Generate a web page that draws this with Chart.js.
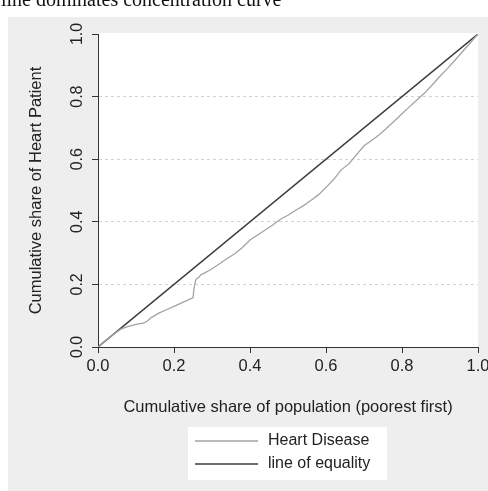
<!DOCTYPE html>
<html>
<head>
<meta charset="utf-8">
<script src="https://cdn.jsdelivr.net/npm/chart.js@4.4.1/dist/chart.umd.min.js"></script>
<style>
  html, body { margin: 0; padding: 0; background: #ffffff; }
  #wrap { position: relative; width: 488px; height: 491px; }
  canvas { display: block; }
</style>
</head>
<body>
<div id="wrap"><canvas id="c" width="488" height="491"></canvas></div>
<script>
// ---- data ----
const headingText = "line dominates concentration curve";
const seriesNames = ["Heart Disease", "line of equality"];
const xTitle = "Cumulative share of population (poorest first)";
const yTitle = "Cumulative share of Heart Patient";
const tickValues = [0, 0.2, 0.4, 0.6, 0.8, 1.0];

// concentration curve (cumulative share of population, cumulative share of heart patients)
const popShare = [0, 0.02, 0.04, 0.06, 0.07, 0.08, 0.10, 0.11, 0.12, 0.13, 0.14, 0.16, 0.18, 0.20, 0.22, 0.24, 0.25,
  0.253, 0.257, 0.26, 0.265, 0.27, 0.28, 0.29, 0.30, 0.32, 0.34, 0.36, 0.38, 0.40, 0.42, 0.44, 0.46, 0.48,
  0.50, 0.52, 0.54, 0.56, 0.58, 0.60, 0.62, 0.64, 0.66, 0.68, 0.70, 0.72, 0.74, 0.76, 0.78, 0.80,
  0.82, 0.84, 0.86, 0.88, 0.90, 0.92, 0.94, 0.96, 0.98, 1.0];
const patientShare = [0, 0.02, 0.04, 0.057, 0.062, 0.066, 0.072, 0.075, 0.076, 0.083, 0.094, 0.108, 0.119, 0.13, 0.141, 0.152, 0.157,
  0.19, 0.213, 0.219, 0.222, 0.23, 0.236, 0.243, 0.25, 0.266, 0.283, 0.298, 0.318, 0.342, 0.358, 0.374, 0.39, 0.408,
  0.421, 0.437, 0.451, 0.468, 0.486, 0.51, 0.535, 0.566, 0.585, 0.614, 0.643, 0.66, 0.678, 0.70, 0.722, 0.745,
  0.768, 0.79, 0.812, 0.838, 0.865, 0.89, 0.917, 0.945, 0.972, 1.0];

// line of equality
const equalityX = [0, 1];
const equalityY = [0, 1];

const curveColor = '#a3a3a3';
const equalityColor = '#3c3c3c';

const toPoints = (xs, ys) => xs.map((x, i) => ({ x: x, y: ys[i] }));

const backgroundPlugin = {
  id: 'bg',
  beforeDraw(chart) {
    const { ctx, chartArea: a } = chart;
    ctx.save();
    ctx.fillStyle = '#ffffff';
    ctx.fillRect(0, 0, chart.width, chart.height);
    ctx.fillStyle = '#eeeeee';
    ctx.fillRect(8, 17, chart.width - 8, chart.height - 17);
    ctx.fillStyle = '#ffffff';
    ctx.fillRect(a.left, a.top - 1, a.right - a.left, a.bottom - a.top + 1);
    // clipped heading
    ctx.fillStyle = '#111111';
    ctx.font = '20px "Liberation Serif", "Times New Roman", serif';
    ctx.textBaseline = 'alphabetic';
    ctx.textAlign = 'left';
    ctx.fillText(headingText, 1, 6);
    ctx.restore();
  }
};

const legendPlugin = {
  id: 'boxLegend',
  afterDraw(chart) {
    const { ctx } = chart;
    ctx.save();
    ctx.fillStyle = '#ffffff';
    ctx.fillRect(188, 427, 199, 53);
    const rows = [441, 464];
    chart.data.datasets.forEach((ds, i) => {
      const y = rows[i];
      ctx.strokeStyle = ds.borderColor;
      ctx.lineWidth = ds.borderWidth;
      ctx.beginPath();
      ctx.moveTo(195, y);
      ctx.lineTo(258, y);
      ctx.stroke();
      ctx.fillStyle = '#222222';
      ctx.font = '16px "Liberation Sans", Arial, sans-serif';
      ctx.textBaseline = 'middle';
      ctx.textAlign = 'left';
      ctx.fillText(ds.label, 268, y);
    });
    ctx.restore();
  }
};

const fontFamily = '"Liberation Sans", Arial, sans-serif';

new Chart(document.getElementById('c'), {
  type: 'line',
  data: {
    datasets: [
      {
        label: seriesNames[0],
        data: toPoints(popShare, patientShare),
        borderColor: curveColor,
        borderWidth: 1.3,
        pointRadius: 0,
        tension: 0,
        fill: false
      },
      {
        label: seriesNames[1],
        data: toPoints(equalityX, equalityY),
        borderColor: equalityColor,
        borderWidth: 1.5,
        pointRadius: 0,
        tension: 0,
        fill: false
      }
    ]
  },
  options: {
    responsive: false,
    animation: false,
    devicePixelRatio: 1,
    layout: { padding: { top: 34, right: 10, bottom: 69, left: 0 } },
    plugins: {
      legend: { display: false },
      tooltip: { enabled: false },
      title: { display: false }
    },
    scales: {
      x: {
        type: 'linear',
        min: 0, max: 1,
        afterBuildTicks(scale) { scale.ticks = tickValues.map(v => ({ value: v })); },
        afterFit(scale) { scale.height = 75; scale.paddingLeft = 0; scale.paddingRight = 0; },
        ticks: {
          color: '#222222',
          font: { family: fontFamily, size: 16.5 },
          padding: 4,
          maxRotation: 0,
          callback: v => v.toFixed(1)
        },
        grid: {
          drawOnChartArea: false,
          drawTicks: true,
          tickLength: 6,
          tickColor: '#333333',
          tickWidth: 1
        },
        border: { display: true, color: '#333333', width: 1 },
        title: {
          display: true,
          text: xTitle,
          color: '#222222',
          font: { family: fontFamily, size: 16.5 },
          padding: { top: 0, bottom: 5 }
        }
      },
      y: {
        type: 'linear',
        min: 0, max: 1,
        afterBuildTicks(scale) { scale.ticks = tickValues.map(v => ({ value: v })); },
        afterFit(scale) { scale.width = 98; scale.paddingTop = 0; scale.paddingBottom = 0; },
        ticks: {
          color: '#222222',
          font: { family: fontFamily, size: 16 },
          padding: 3,
          minRotation: 90,
          maxRotation: 90,
          crossAlign: 'center',
          callback: v => v.toFixed(1)
        },
        grid: {
          drawOnChartArea: true,
          color: ctx => (ctx.tick && (ctx.tick.value === 0 || ctx.tick.value === 1)) ? 'rgba(0,0,0,0)' : '#d2d2d2',
          lineWidth: 1,
          drawTicks: true,
          tickLength: 6,
          tickColor: '#333333',
          tickBorderDash: [],
          tickWidth: 1
        },
        border: { display: true, color: '#333333', width: 1, dash: [3, 3] },
        title: {
          display: true,
          text: yTitle,
          color: '#222222',
          font: { family: fontFamily, size: 16.5 },
          padding: { top: 27, bottom: 0 }
        }
      }
    }
  },
  plugins: [backgroundPlugin, legendPlugin]
});
</script>
</body>
</html>
